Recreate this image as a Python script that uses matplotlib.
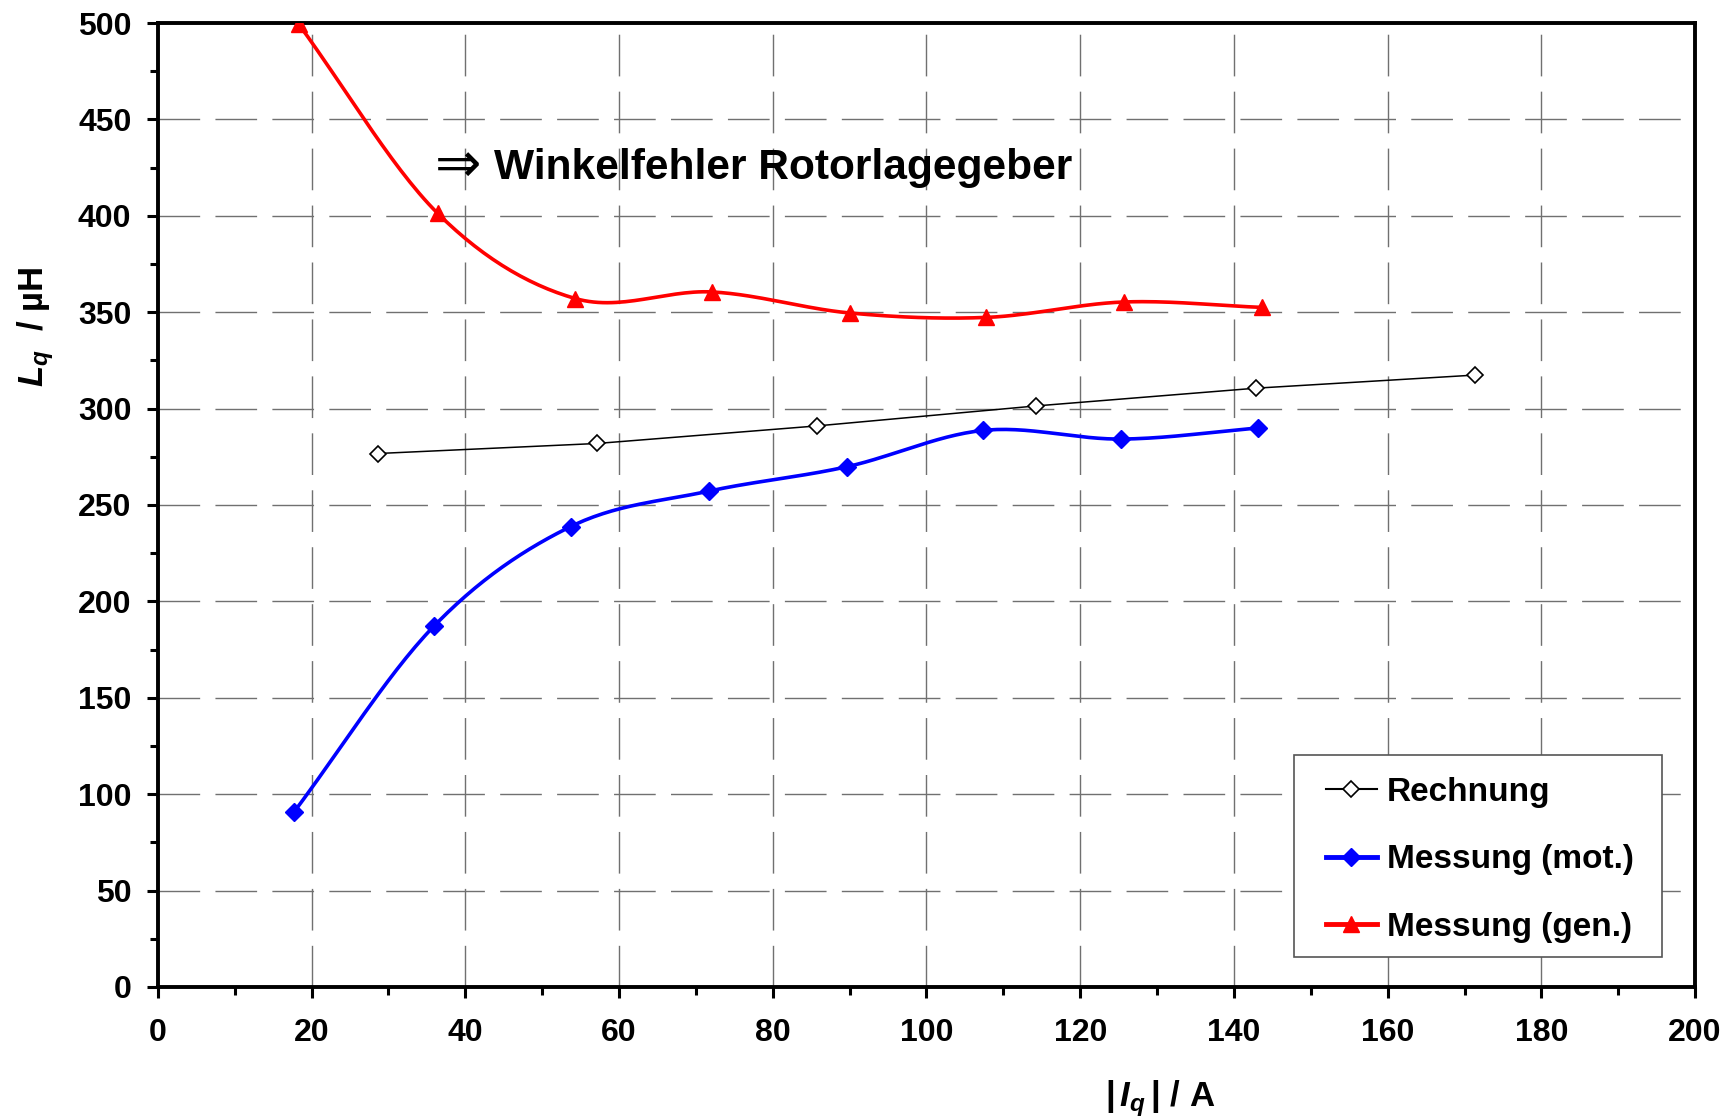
import numpy as np
import matplotlib
matplotlib.use('Agg')
import matplotlib.pyplot as plt
from matplotlib.patches import Rectangle
from matplotlib.ticker import MultipleLocator

plt.rcParams['font.family'] = ['Liberation Sans', 'DejaVu Sans']
plt.rcParams['font.weight'] = 'bold'
plt.rcParams['axes.labelweight'] = 'bold'
plt.rcParams['mathtext.fontset'] = 'custom'
plt.rcParams['mathtext.rm'] = 'Liberation Sans'
plt.rcParams['mathtext.it'] = 'Liberation Sans:bold:italic'
plt.rcParams['mathtext.bf'] = 'Liberation Sans:bold'

# Rechnung
x_rech = [28.6, 57.1, 85.7, 114.3, 142.9, 171.4]
y_rech = [276.7, 281.9, 291.0, 301.4, 310.6, 317.4]

# Messung (mot.)
x_mot = [17.7, 35.9, 53.7, 71.7, 89.6, 107.4, 125.3, 143.1]
y_mot = [90.7, 187.1, 238.8, 257.2, 269.8, 288.7, 284.2, 289.9]

# Messung (gen.)
x_gen = [18.3, 36.4, 54.3, 72.1, 90.0, 107.8, 125.7, 143.6]
y_gen = [499.5, 401.3, 357.1, 360.5, 349.6, 347.3, 355.3, 352.5]

x_ticks = [0, 20, 40, 60, 80, 100, 120, 140, 160, 180, 200]
y_ticks = [0, 50, 100, 150, 200, 250, 300, 350, 400, 450, 500]


def smooth(x, y, n=30):
    # Catmull-Rom curve through the points, like Excel's smoothed line
    p = np.column_stack([x, y]).astype(float)
    p = np.vstack([2 * p[0] - p[1], p, 2 * p[-1] - p[-2]])
    out = []
    t = np.linspace(0, 1, n, endpoint=False)[:, None]
    for i in range(1, len(p) - 2):
        p0, p1, p2, p3 = p[i - 1], p[i], p[i + 1], p[i + 2]
        seg = 0.5 * ((2 * p1) + (-p0 + p2) * t + (2 * p0 - 5 * p1 + 4 * p2 - p3) * t ** 2
                     + (-p0 + 3 * p1 - 3 * p2 + p3) * t ** 3)
        out.append(seg)
    out.append(p[-2][None, :])
    out = np.vstack(out)
    return out[:, 0], out[:, 1]


fig = plt.figure(figsize=(17.35, 11.17), dpi=100)
ax = fig.add_axes([0.091, 0.1164, 0.886, 0.863])

ax.set_xlim(0, 200)
ax.set_ylim(0, 500)
ax.set_xticks(x_ticks)
ax.set_yticks(y_ticks)
ax.xaxis.set_minor_locator(MultipleLocator(10))
ax.yaxis.set_minor_locator(MultipleLocator(25))
ax.grid(True, which='major', color='#707070', linewidth=1.0, linestyle=(0, (30, 11)))
ax.set_axisbelow(True)

for s in ax.spines.values():
    s.set_linewidth(2.8)
ax.tick_params(which='major', direction='out', length=8, width=2.2, labelsize=23, pad=11)
ax.tick_params(which='minor', direction='out', length=6, width=2.2)
ax.tick_params(axis='x', which='major', pad=14)

xs, ys = smooth(x_gen, y_gen)
ax.plot(xs, ys, color='#ff0000', lw=2.6, zorder=3)
ax.plot(x_gen, y_gen, ls='none', marker='^', ms=12, color='#ff0000', zorder=4)

xs, ys = smooth(x_mot, y_mot)
ax.plot(xs, ys, color='#0000ff', lw=2.6, zorder=3)
ax.plot(x_mot, y_mot, ls='none', marker='D', ms=9, color='#0000ff', zorder=4)

ax.plot(x_rech, y_rech, color='black', lw=1.1, zorder=3)
ax.plot(x_rech, y_rech, ls='none', marker='D', ms=8, mfc='white', mec='black', mew=1.2, zorder=4)

# legend box drawn separately so its padding can differ per side
ax.add_patch(Rectangle((0.7388, 0.0311), 0.2397, 0.21, transform=ax.transAxes,
                       facecolor='white', edgecolor='#555555', lw=1.2, zorder=4.5))

h1, = ax.plot([], [], color='black', lw=1.5, marker='D', ms=8, mfc='white', mec='black', mew=1.2)
h2, = ax.plot([], [], color='#0000ff', lw=3.5, marker='D', ms=9)
h3, = ax.plot([], [], color='#ff0000', lw=3.5, marker='^', ms=12)
leg = ax.legend([h1, h2, h3], ['Rechnung', 'Messung (mot.)', 'Messung (gen.)'],
                loc='lower right', bbox_to_anchor=(0.9733, 0.0249), fontsize=24,
                frameon=False, handlelength=1.55, handletextpad=0.3, labelspacing=1.1,
                borderpad=0.6, borderaxespad=0)
leg.set_zorder(5)

ax.text(36.0, 425.5, '\u21d2', fontsize=40, family='DejaVu Sans', fontweight='normal',
        va='center', ha='left')
ax.text(43.7, 425, 'Winkelfehler Rotorlagegeber', fontsize=30.6, va='center', ha='left')

ax.set_xlabel(r'$|\,I_q\,|$ / A', fontsize=25)
ax.set_ylabel(r'$L_q$  / µH', fontsize=25)
ax.xaxis.set_label_coords(0.652, -0.095)
ax.yaxis.set_label_coords(-0.066, 0.685)

fig.savefig('out.png', dpi=100)
